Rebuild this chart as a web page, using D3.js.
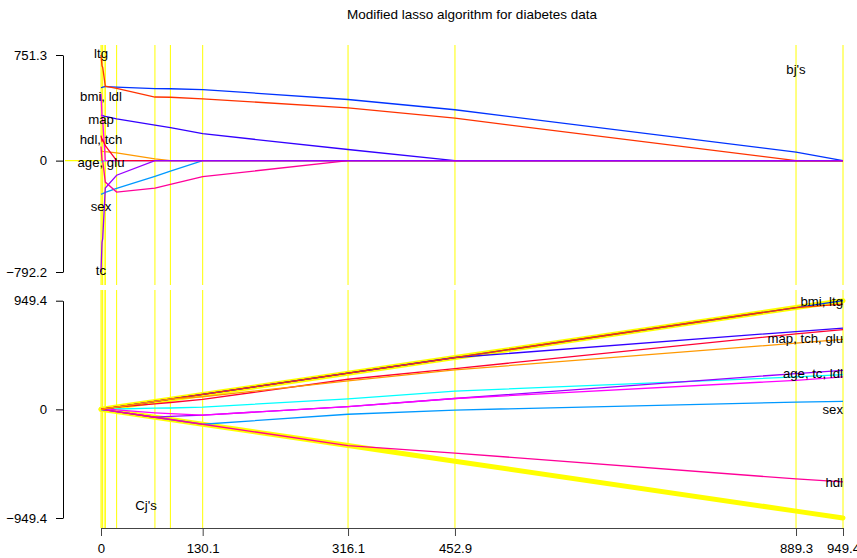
<!DOCTYPE html>
<html>
<head>
<meta charset="utf-8">
<script src="https://cdn.jsdelivr.net/npm/d3@7"></script>
<style>
    body { margin: 0; background: #ffffff; }
    svg { display: block; font-family: "Liberation Sans", Arial, sans-serif; }
    .axis text { font-size: 13.2px; fill: #000; }
    .lab { font-size: 13.2px; fill: #000; }
</style>
</head>
<body>
<div id="myDiv"><svg width="857" height="558"></svg></div>
<script>
// Breakpoints of the path (lambda), from the largest down to 0
const lambdas = [949.4, 889.3, 452.9, 316.1, 130.1, 88.8, 69.0, 20.0, 5.5, 5.1, 2.2, 1.3, 0];
const varNames = ["age", "sex", "bmi", "map", "tc", "ldl", "hdl", "tch", "ltg", "glu"];

// Coefficients bj at each breakpoint
const bAge = [0, 0, 0, 0, 0, 0, 0, 0, 0, 0, -5.7, -7.0, -10.0];
const bSex = [0, 0, 0, 0, 0, -74.9, -112.0, -197.8, -226.1, -227.2, -234.4, -237.1, -239.8];
const bBmi = [0, 60.1, 361.9, 434.8, 505.7, 511.3, 512.0, 522.3, 526.9, 526.4, 522.6, 521.1, 519.8];
const bMap = [0, 0, 0, 79.2, 191.3, 234.2, 252.5, 297.2, 314.4, 315.0, 320.3, 321.5, 324.4];
const bTc  = [0, 0, 0, 0, 0, 0, 0, -103.9, -195.1, -237.3, -554.3, -580.4, -792.2];
const bLdl = [0, 0, 0, 0, 0, 0, 0, 0, 0, 33.6, 286.7, 313.9, 476.7];
const bHdl = [0, 0, 0, 0, -114.1, -169.7, -196.0, -223.9, -152.5, -134.6, 0, 0, 101.0];
const bTch = [0, 0, 0, 0, 0, 0, 0, 0, 106.3, 111.4, 148.9, 139.9, 177.1];
const bLtg = [0, 0, 301.8, 374.9, 439.7, 450.7, 452.4, 514.7, 529.9, 545.5, 663.0, 674.9, 751.3];
const bGlu = [0, 0, 0, 0, 0, 0, 12.1, 54.8, 64.5, 64.6, 66.3, 67.2, 67.6];

// Correlations Cj at each breakpoint
const cAge = [304, 283, 159, 92, 20, 12, 10, 3, -2, -5.1, -2.2, -1.3, 0];
const cSex = [69.5, 63, -6, -43, -130.1, -88.8, -69.0, -20.0, -5.5, -5.1, -2.2, -1.3, 0];
const cBmi = [949.4, 889.3, 452.9, 316.1, 130.1, 88.8, 69.0, 20.0, 5.5, 5.1, 2.2, 1.3, 0];
const cMap = [709, 680, 452.9, 316.1, 130.1, 88.8, 69.0, 20.0, 5.5, 5.1, 2.2, 1.3, 0];
const cTc  = [341, 313, 95, 23, -50, -62, -69.0, -20.0, -5.5, -5.1, -2.2, -1.3, 0];
const cLdl = [283, 254, 95, 23, -50, -38, -30, -5, 5.5, 5.1, 2.2, 1.3, 0];
const cHdl = [-634, -608, -382, -316.1, -130.1, -88.8, -69.0, -20.0, -5.5, -5.1, -2.2, -1.0, 0];
const cTch = [697, 660, 356, 263, 87, 60, 48, 20.0, 5.5, 5.1, 2.2, 1.3, 0];
const cLtg = [920, 889.3, 452.9, 316.1, 130.1, 88.8, 69.0, 20.0, 5.5, 5.1, 2.2, 1.3, 0];
const cGlu = [611, 578, 345, 249, 110, 88.8, 69.0, 20.0, 5.5, 5.1, 2.2, 1.3, 0];

// Tick labels
const xTicks = [0, 130.1, 316.1, 452.9, 889.3, 949.4];
const topTicks = [-792.2, 0, 751.3];
const botTicks = [-949.4, 0, 949.4];

// Variable name labels (text and the value they sit at)
const topLabels = ["ltg", "bmi, ldl", "map", "hdl, tch", "age, glu", "sex", "tc"];
const topLabelAt = [765, 455, 294, 151, -8, -321, -778];
const botLabels = ["bmi, ltg", "map, tch, glu", "age, tc, ldl", "sex", "hdl"];
const botLabelAt = [943, 617, 313, 0, -634];

const bValues = [bAge, bSex, bBmi, bMap, bTc, bLdl, bHdl, bTch, bLtg, bGlu];
const cValues = [cAge, cSex, cBmi, cMap, cTc, cLdl, cHdl, cTch, cLtg, cGlu];

// one hue per variable, cyan round to orange
const colors = varNames.map((d, i) => d3.hsl((180 + 24 * i) % 360, 1, 0.5).formatHex());

// top panel draws glu first and tc last (so the zero line shows purple over orange)
const topOrder = [9, 0, 1, 2, 3, 5, 6, 7, 8, 4];

const svg = d3.select("#myDiv").select("svg");

const x = d3.scaleLinear().domain([0, 949.4]).range([101, 843]);
const yTop = d3.scaleLinear().domain([-792.2, 751.3]).range([272, 55]);
const yBot = d3.scaleLinear().domain([-949.4, 949.4]).range([518, 300.7]);

const fmt = d => d === 0 ? "0" : d3.format(".1f")(d);

// Title
svg.append("text")
    .attr("x", 472)
    .attr("y", 19)
    .attr("text-anchor", "middle")
    .style("font-size", "13.5px")
    .text("Modified lasso algorithm for diabetes data");

function drawPanel(yScale, top, bottom) {
    let g = svg.append("g");

    // yellow lines at every breakpoint
    g.selectAll(".brk")
        .data(lambdas)
        .enter()
        .append("line")
        .attr("x1", d => x(d))
        .attr("x2", d => x(d))
        .attr("y1", top)
        .attr("y2", bottom)
        .style("stroke", "#ffff00")
        .style("stroke-width", 1);

    let line = d3.line()
        .x((d, i) => x(lambdas[i]))
        .y(d => yScale(d));

    return {g: g, line: line};
}

// ---- top panel: coefficients ----
let topPanel = drawPanel(yTop, 45, 285);

topPanel.g.append("line")
    .attr("x1", 65)
    .attr("x2", x(949.4))
    .attr("y1", yTop(0))
    .attr("y2", yTop(0))
    .style("stroke", "#ffff00")
    .style("stroke-width", 1.2);

topPanel.g.selectAll(".coef")
    .data(topOrder)
    .enter()
    .append("path")
    .attr("d", k => topPanel.line(bValues[k]))
    .style("fill", "none")
    .style("stroke", k => colors[k])
    .style("stroke-width", 1.3);

svg.append("g")
    .attr("class", "axis")
    .attr("transform", "translate(63,0)")
    .call(d3.axisLeft(yTop).tickValues(topTicks).tickSize(7).tickSizeOuter(0).tickPadding(9).tickFormat(fmt));

svg.selectAll(".toplab")
    .data(topLabels)
    .enter()
    .append("text")
    .attr("class", "lab")
    .attr("x", x(0))
    .attr("y", (d, i) => yTop(topLabelAt[i]))
    .attr("dy", "0.36em")
    .attr("text-anchor", "middle")
    .text(d => d);

svg.append("text")
    .attr("class", "lab")
    .attr("x", x(889.3))
    .attr("y", yTop(649))
    .attr("dy", "0.36em")
    .attr("text-anchor", "middle")
    .text("bj's");

// ---- bottom panel: correlations ----
let botPanel = drawPanel(yBot, 290, 528);

// +/- lambda envelope
[1, -1].forEach(function(s) {
    botPanel.g.append("path")
        .attr("d", botPanel.line(lambdas.map(l => s * l)))
        .style("fill", "none")
        .style("stroke", "#ffff00")
        .style("stroke-width", 5)
        .style("stroke-linecap", "round");
});

botPanel.g.selectAll(".corr")
    .data(cValues)
    .enter()
    .append("path")
    .attr("d", d => botPanel.line(d))
    .style("fill", "none")
    .style("stroke", (d, i) => colors[i])
    .style("stroke-width", 1.3);

svg.append("g")
    .attr("class", "axis")
    .attr("transform", "translate(63,0)")
    .call(d3.axisLeft(yBot).tickValues(botTicks).tickSize(7).tickSizeOuter(0).tickPadding(9).tickFormat(fmt));

svg.selectAll(".botlab")
    .data(botLabels)
    .enter()
    .append("text")
    .attr("class", "lab")
    .attr("x", x(949.4))
    .attr("y", (d, i) => yBot(botLabelAt[i]))
    .attr("dy", "0.36em")
    .attr("text-anchor", "end")
    .text(d => d);

svg.append("text")
    .attr("class", "lab")
    .attr("x", x(57.6))
    .attr("y", yBot(-837))
    .attr("dy", "0.36em")
    .attr("text-anchor", "middle")
    .text("Cj's");

// x axis
let xAxis = svg.append("g")
    .attr("class", "axis")
    .attr("transform", "translate(0,528)")
    .call(d3.axisBottom(x).tickValues(xTicks).tickSize(8).tickSizeOuter(0).tickPadding(8).tickFormat(fmt));
xAxis.selectAll("path, line").style("stroke", "#444");
</script>
</body>
</html>
